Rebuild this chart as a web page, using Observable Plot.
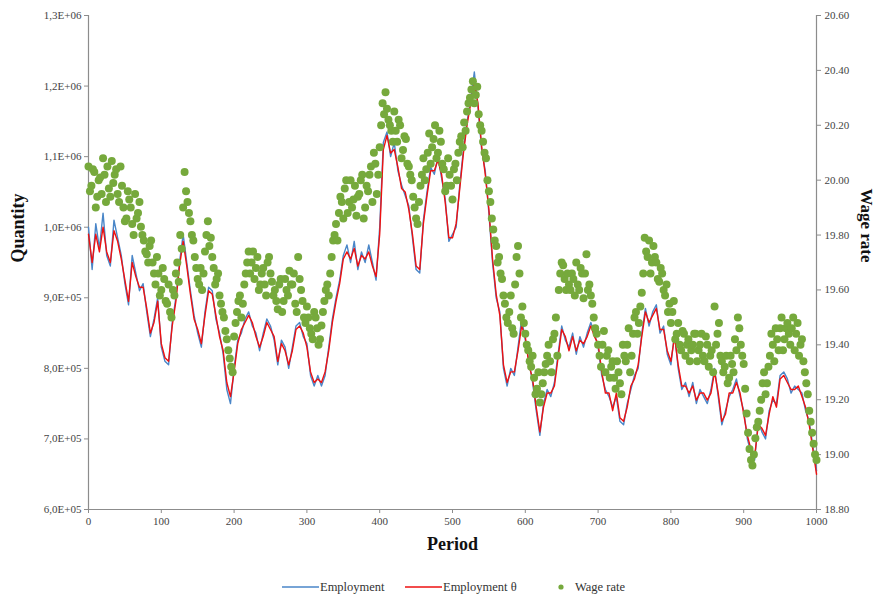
<!DOCTYPE html>
<html><head><meta charset="utf-8">
<script src="https://cdn.jsdelivr.net/npm/d3@7"></script>
<script src="https://cdn.jsdelivr.net/npm/@observablehq/plot@0.6"></script>
<style>
body{margin:0;background:#fff;font-family:"Liberation Serif","Times New Roman",serif;}
#wrap{position:relative;width:878px;height:599px;overflow:hidden;}
#legend{position:absolute;left:0;top:575px;width:878px;height:24px;font-size:12.5px;color:#333;}
.li{position:absolute;top:5px;white-space:nowrap;}
.sw{position:absolute;}
</style></head><body>
<div id="wrap"><div id="chart"></div><div id="legend"></div></div>
<script>
// Employment (every 5 periods, thousands)
const employment = [1000,940,1005,970,1020,960,945,1010,985,960,
920,890,960,935,910,920,880,845,870,900,
830,810,805,865,900,950,990,950,910,875,
850,830,880,915,910,870,850,820,770,750,
800,840,850,870,880,860,850,825,850,870,
860,840,805,840,830,800,830,860,865,845,
835,790,775,790,775,790,830,870,900,925,
960,975,950,980,940,965,950,975,950,925,
1000,1120,1135,1100,1120,1080,1060,1045,1030,985,
940,935,1010,1050,1085,1075,1100,1070,1040,980,
990,1000,1060,1110,1150,1180,1220,1170,1110,1080,
1020,950,900,880,800,775,800,790,830,870,
840,810,780,740,705,750,770,760,780,820,
860,840,830,850,820,845,830,850,865,850,
830,790,770,760,745,760,725,720,750,770,
790,800,850,885,860,880,890,850,860,820,
805,850,800,770,780,760,780,750,770,760,
750,770,800,760,720,740,760,770,785,760,
740,700,680,670,725,710,700,740,755,750,
790,795,785,765,775,770,765,740,725,690,
655];
// Employment theta (every 5 periods, thousands)
const employmentTheta = [990,950,990,965,1000,965,950,995,980,955,
925,895,950,930,915,915,885,850,865,895,
835,815,810,860,895,945,980,945,905,870,
855,835,875,910,905,875,845,825,780,760,
795,835,855,865,875,865,845,830,845,865,
855,845,810,835,825,805,825,855,860,850,
830,795,780,785,780,795,825,865,895,920,
955,965,955,970,945,960,955,965,945,930,
990,1110,1130,1105,1110,1085,1055,1050,1025,990,
945,940,1005,1045,1080,1080,1095,1075,1035,985,
985,1005,1055,1105,1145,1175,1205,1175,1115,1075,
1025,955,905,875,805,780,795,795,825,860,
845,805,785,745,710,745,765,765,775,815,
855,845,825,845,825,840,835,845,860,845,
835,795,765,765,740,765,730,725,745,775,
785,805,845,880,865,875,885,855,855,825,
810,845,805,775,775,765,775,755,765,765,
755,765,795,765,725,735,765,765,780,765,
735,705,685,675,720,715,705,735,760,745,
785,790,780,770,770,775,760,745,720,685,
650];
// Wage rate at periods 0,4,8,...,1000
const wageRateA = [20.05,19.98,20.03,19.94,20.01,20.08,19.92,19.97,20.07,20.02,
19.95,20.05,19.90,19.86,19.93,19.84,19.95,19.88,19.83,19.78,
19.73,19.76,19.70,19.62,19.66,19.60,19.64,19.55,19.52,19.60,
19.66,19.63,19.75,20.03,19.92,19.85,19.78,19.68,19.62,19.60,
19.74,19.85,19.79,19.68,19.64,19.58,19.52,19.45,19.38,19.32,
19.43,19.52,19.58,19.55,19.66,19.74,19.70,19.64,19.72,19.62,
19.68,19.58,19.72,19.63,19.60,19.53,19.64,19.56,19.60,19.67,
19.62,19.55,19.72,19.60,19.50,19.54,19.46,19.42,19.50,19.40,
19.47,19.56,19.62,19.66,19.78,19.84,19.88,19.92,19.97,19.88,
20.00,19.93,19.87,19.95,20.02,19.90,19.96,20.05,20.10,19.95,
20.12,20.28,20.32,20.22,20.18,20.25,20.14,20.20,20.11,20.15,
20.05,20.00,19.90,19.84,19.98,20.08,20.04,20.17,20.12,20.20,
20.10,20.14,20.04,19.98,20.02,19.93,20.06,20.10,20.16,20.21,
20.25,20.30,20.36,20.31,20.24,20.18,20.10,20.00,19.92,19.82,
19.76,19.72,19.64,19.55,19.48,19.58,19.44,19.72,19.66,19.54,
19.44,19.38,19.32,19.28,19.24,19.19,19.26,19.33,19.40,19.30,
19.44,19.36,19.66,19.69,19.60,19.62,19.66,19.58,19.62,19.68,
19.57,19.73,19.62,19.55,19.46,19.40,19.32,19.45,19.36,19.28,
19.34,19.24,19.30,19.22,19.36,19.40,19.30,19.44,19.52,19.48,
19.59,19.79,19.72,19.66,19.76,19.70,19.63,19.66,19.58,19.52,
19.48,19.56,19.44,19.40,19.45,19.36,19.42,19.38,19.44,19.34,
19.40,19.36,19.43,19.32,19.38,19.54,19.44,19.36,19.30,19.36,
19.28,19.33,19.42,19.50,19.40,19.33,19.15,19.02,18.96,19.06,
19.12,19.20,19.30,19.26,19.36,19.40,19.46,19.38,19.50,19.42,
19.48,19.40,19.50,19.44,19.36,19.42,19.30,19.22,19.12,19.04,
18.98];
// Wage rate at periods 2,6,10,...,998
const wageRateB = [19.96,20.04,19.90,20.00,19.95,20.02,20.05,19.94,19.99,20.04,
19.92,19.98,19.85,19.96,19.90,19.80,19.86,19.92,19.80,19.74,
19.70,19.78,19.66,19.72,19.58,19.68,19.56,19.62,19.50,19.58,
19.70,19.80,19.90,19.96,19.88,19.80,19.72,19.64,19.68,19.66,
19.80,19.76,19.72,19.62,19.66,19.55,19.50,19.42,19.35,19.30,
19.48,19.56,19.50,19.62,19.70,19.66,19.74,19.68,19.60,19.66,
19.62,19.70,19.66,19.58,19.56,19.62,19.52,19.64,19.58,19.62,
19.66,19.52,19.64,19.56,19.48,19.50,19.44,19.52,19.46,19.42,
19.52,19.60,19.58,19.72,19.80,19.78,19.94,19.86,20.00,19.92,
19.90,19.98,19.94,20.00,19.86,19.98,20.02,19.92,20.06,20.02,
20.20,20.24,20.26,20.20,20.14,20.18,20.22,20.08,20.16,20.06,
20.02,19.94,19.86,19.92,20.02,20.00,20.10,20.06,20.15,20.08,
20.18,20.06,19.96,20.08,19.98,20.04,20.00,20.14,20.12,20.18,
20.28,20.33,20.28,20.34,20.20,20.14,20.08,19.96,19.86,19.78,
19.70,19.66,19.58,19.50,19.52,19.46,19.62,19.76,19.50,19.48,
19.40,19.34,19.36,19.22,19.30,19.22,19.30,19.36,19.34,19.42,
19.50,19.60,19.70,19.64,19.66,19.60,19.64,19.70,19.60,19.66,
19.66,19.60,19.58,19.50,19.44,19.36,19.40,19.30,19.38,19.32,
19.28,19.34,19.26,19.40,19.34,19.46,19.36,19.50,19.44,19.54,
19.66,19.74,19.78,19.70,19.72,19.64,19.68,19.60,19.62,19.55,
19.52,19.42,19.48,19.38,19.44,19.40,19.34,19.40,19.44,19.38,
19.44,19.34,19.40,19.36,19.30,19.40,19.48,19.34,19.32,19.26,
19.36,19.30,19.38,19.46,19.36,19.24,19.08,18.98,19.00,19.10,
19.16,19.26,19.22,19.32,19.44,19.34,19.42,19.46,19.38,19.46,
19.44,19.46,19.38,19.48,19.40,19.34,19.26,19.16,19.08,19.00];
const xTicks = [0,100,200,300,400,500,600,700,800,900,1000];
const qTicks = [600000,700000,800000,900000,1000000,1100000,1200000,1300000];
const qTickLabels = ["6,0E+05","7,0E+05","8,0E+05","9,0E+05","1,0E+06","1,1E+06","1,2E+06","1,3E+06"];
const wTicks = [18.8,19.0,19.2,19.4,19.6,19.8,20.0,20.2,20.4,20.6];
const wTickLabels = ["18.80","19.00","19.20","19.40","19.60","19.80","20.00","20.20","20.40","20.60"];

const qLo = 600000, qHi = 1300000, wLo = 18.8, wHi = 20.6;
const w2q = w => qLo + (w - wLo) / (wHi - wLo) * (qHi - qLo);

const empData = employment.map((v, i) => ({p: i * 5, v: v * 1000}));
const empThData = employmentTheta.map((v, i) => ({p: i * 5, v: v * 1000}));
const wageData = wageRateA.map((w, i) => ({p: i * 4, w}))
  .concat(wageRateB.map((w, i) => ({p: 2 + i * 4, w})))
  .sort((a, b) => a.p - b.p);

const axisColor = "#8c8c8c";
const chart = Plot.plot({
  width: 878, height: 575,
  marginLeft: 88, marginRight: 62, marginTop: 15, marginBottom: 66,
  style: {fontFamily: "Liberation Serif, Times New Roman, serif", fontSize: "11px", color: "#444", background: "#fff"},
  x: {domain: [0, 1000]},
  y: {domain: [qLo, qHi]},
  marks: [
    Plot.ruleX([0], {stroke: axisColor, strokeWidth: 1.2}),
    Plot.ruleX([1000], {stroke: axisColor, strokeWidth: 1.2}),
    Plot.ruleY([qLo], {stroke: axisColor, strokeWidth: 1.2}),
    Plot.axisX(xTicks, {tickSize: 4, tickPadding: 4, label: null, stroke: axisColor, tickFormat: d => String(d)}),
    Plot.axisY(qTicks, {anchor: "left", tickSize: 4, tickPadding: 3, label: null, stroke: axisColor, tickFormat: (d, i) => qTickLabels[i]}),
    Plot.axisY(wTicks.map(w2q), {anchor: "right", tickSize: 4, tickPadding: 4, label: null, stroke: axisColor, tickFormat: (d, i) => wTickLabels[i]}),
    Plot.line(empData, {x: "p", y: "v", stroke: "#4a86c8", strokeWidth: 1.4}),
    Plot.line(empThData, {x: "p", y: "v", stroke: "#ee1111", strokeWidth: 1.4}),
    Plot.dot(wageData, {x: "p", y: d => w2q(d.w), r: 4, fill: "#76a93c", stroke: "none"}),
    Plot.text(["Quantity"], {frameAnchor: "left", dx: -70, rotate: -90, fontSize: 18, fontWeight: "bold", fill: "#111"}),
    Plot.text(["Wage rate"], {frameAnchor: "right", dx: 50, rotate: 90, fontSize: 17, fontWeight: "bold", fill: "#111"}),
    Plot.text(["Period"], {frameAnchor: "bottom", dy: 40, fontSize: 18, fontWeight: "bold", fill: "#111"})
  ]
});
document.getElementById("chart").appendChild(chart);

const legend = document.getElementById("legend");
legend.innerHTML = `
<svg class="sw" style="left:282px;top:8px" width="37" height="8"><line x1="0" y1="4" x2="37" y2="4" stroke="#4a86c8" stroke-width="1.6"/></svg>
<div class="li" style="left:320px">Employment</div>
<svg class="sw" style="left:405px;top:8px" width="37" height="8"><line x1="0" y1="4" x2="37" y2="4" stroke="#ee1111" stroke-width="1.6"/></svg>
<div class="li" style="left:443px">Employment θ</div>
<svg class="sw" style="left:557px;top:8px" width="8" height="8"><circle cx="4" cy="4" r="2.6" fill="#76a93c"/></svg>
<div class="li" style="left:575px">Wage rate</div>`;
</script>
</body></html>
